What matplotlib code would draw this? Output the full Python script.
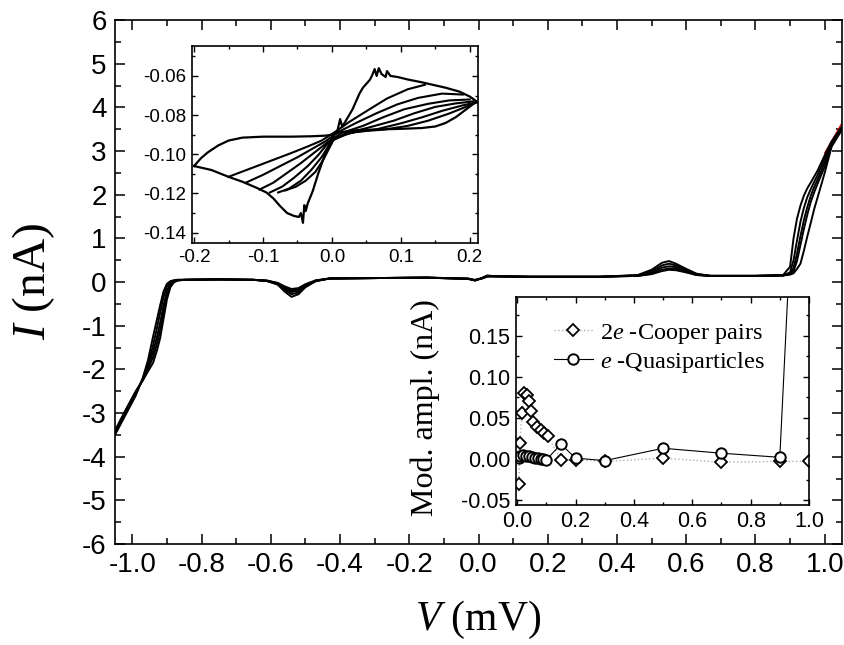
import matplotlib
matplotlib.use("Agg")
import matplotlib.pyplot as plt
from matplotlib.ticker import MultipleLocator, FormatStrFormatter
from matplotlib.lines import Line2D

plt.rcParams['font.family'] = ['Liberation Sans', 'DejaVu Sans']
plt.rcParams['axes.unicode_minus'] = False
plt.rcParams['mathtext.fontset'] = 'custom'
plt.rcParams['mathtext.rm'] = 'Liberation Serif'
plt.rcParams['mathtext.it'] = 'Liberation Serif:italic'

# ---------------- main I-V sweeps (V in mV, I in nA) ----------------
v_main = [-1.05, -1.02, -0.99, -0.97, -0.955, -0.94, -0.93, -0.92, -0.91, -0.90, -0.89, -0.88, -0.87, -0.85,
          -0.75, -0.65, -0.61, -0.58, -0.56, -0.54, -0.52, -0.50, -0.47, -0.43, -0.30, -0.15, -0.03, -0.01, 0.01, 0.025, 0.05, 0.15, 0.35,
          0.46, 0.50, 0.53, 0.55, 0.57, 0.60, 0.63, 0.67, 0.80, 0.88, 0.90, 0.91, 0.92, 0.93, 0.94, 0.95, 0.96, 0.97, 0.98, 1.00, 1.02, 1.05]

i_main_1 = [-3.50, -3.05, -2.60, -2.20, -1.80, -1.25, -0.90, -0.55, -0.22, -0.04, 0.02, 0.04, 0.05, 0.05,
            0.06, 0.05, 0.02, -0.06, -0.22, -0.34, -0.28, -0.12, 0.02, 0.08, 0.09, 0.10, 0.08, 0.03, 0.09, 0.15, 0.13, 0.12, 0.12,
            0.16, 0.28, 0.44, 0.48, 0.42, 0.30, 0.19, 0.14, 0.14, 0.16, 0.35, 1.00, 1.45, 1.75, 1.98, 2.15, 2.28, 2.42, 2.56, 2.90, 3.22, 3.56]
i_main_2 = [-3.48, -3.02, -2.57, -2.22, -1.90, -1.45, -1.10, -0.72, -0.35, -0.10, 0.00, 0.03, 0.05, 0.05,
            0.06, 0.05, 0.02, -0.05, -0.18, -0.28, -0.24, -0.10, 0.02, 0.08, 0.09, 0.10, 0.08, 0.04, 0.09, 0.14, 0.13, 0.12, 0.12,
            0.15, 0.24, 0.38, 0.42, 0.38, 0.28, 0.18, 0.14, 0.14, 0.15, 0.22, 0.50, 0.95, 1.38, 1.70, 1.95, 2.13, 2.30, 2.46, 2.84, 3.20, 3.54]
i_main_3 = [-3.46, -2.98, -2.53, -2.24, -1.95, -1.60, -1.30, -0.95, -0.55, -0.20, -0.04, 0.02, 0.04, 0.05,
            0.06, 0.05, 0.03, -0.04, -0.15, -0.23, -0.20, -0.08, 0.03, 0.08, 0.09, 0.10, 0.07, 0.04, 0.09, 0.14, 0.13, 0.12, 0.12,
            0.15, 0.21, 0.33, 0.36, 0.34, 0.25, 0.17, 0.14, 0.14, 0.15, 0.19, 0.32, 0.65, 1.05, 1.42, 1.72, 1.98, 2.18, 2.36, 2.74, 3.16, 3.53]
i_main_4 = [-3.43, -2.96, -2.51, -2.25, -2.00, -1.72, -1.45, -1.12, -0.70, -0.30, -0.08, 0.01, 0.04, 0.05,
            0.06, 0.05, 0.03, -0.03, -0.12, -0.19, -0.17, -0.07, 0.03, 0.08, 0.09, 0.10, 0.07, 0.04, 0.08, 0.13, 0.13, 0.12, 0.12,
            0.14, 0.19, 0.28, 0.31, 0.30, 0.23, 0.16, 0.14, 0.14, 0.15, 0.18, 0.25, 0.48, 0.85, 1.22, 1.55, 1.84, 2.06, 2.26, 2.64, 3.12, 3.51]
i_main_5 = [-3.40, -2.94, -2.50, -2.26, -2.05, -1.85, -1.60, -1.30, -0.85, -0.40, -0.12, -0.01, 0.03, 0.05,
            0.06, 0.05, 0.03, -0.02, -0.10, -0.16, -0.14, -0.05, 0.04, 0.08, 0.09, 0.10, 0.07, 0.05, 0.08, 0.12, 0.13, 0.12, 0.12,
            0.14, 0.18, 0.25, 0.28, 0.27, 0.22, 0.16, 0.14, 0.14, 0.15, 0.17, 0.20, 0.30, 0.42, 0.72, 1.05, 1.36, 1.68, 1.95, 2.50, 3.10, 3.49]

v_red = [1.000, 1.05]
i_red = [2.95, 3.64]

# ---------------- inset 1: zoom on the central loops ----------------
outer_v = [-0.200, -0.190, -0.180, -0.165, -0.150, -0.130, -0.100, -0.060, -0.030, -0.010, 0.000, 0.010, 0.030, 0.060,
           0.100, 0.130, 0.150, 0.165, 0.180, 0.195, 0.210,
           0.200, 0.185, 0.165, 0.150, 0.130, 0.110, 0.095, 0.085, 0.080, 0.078, 0.072, 0.068, 0.065, 0.062, 0.058,
           0.055, 0.050, 0.045, 0.040, 0.030, 0.020, 0.015, 0.012, 0.008, 0.000, -0.010, -0.020, -0.028, -0.035,
           -0.038, -0.040, -0.042, -0.045, -0.048, -0.055, -0.065, -0.075, -0.085, -0.095, -0.110, -0.130, -0.150,
           -0.175, -0.200]
outer_i = [-0.1060, -0.1020, -0.0990, -0.0955, -0.0930, -0.0915, -0.0910, -0.0910, -0.0908, -0.0905, -0.0900, -0.0890, -0.0878, -0.0874,
           -0.0870, -0.0866, -0.0858, -0.0840, -0.0810, -0.0770, -0.0730,
           -0.0705, -0.0680, -0.0660, -0.0648, -0.0632, -0.0618, -0.0605, -0.0600, -0.0575, -0.0605, -0.0590, -0.0560, -0.0600, -0.0565, -0.0600,
           -0.0620, -0.0640, -0.0660, -0.0690, -0.0770, -0.0830, -0.0860, -0.0820, -0.0880, -0.0920, -0.1000, -0.1100, -0.1190, -0.1250,
           -0.1290, -0.1260, -0.1350, -0.1300, -0.1320, -0.1315, -0.1300, -0.1265, -0.1225, -0.1195, -0.1170, -0.1140, -0.1115,
           -0.1080, -0.1060]

inner_v = [
    [-0.150, -0.120, -0.090, -0.060, -0.035, -0.015, 0.005, 0.025, 0.050, 0.080, 0.110, 0.135],
    [-0.125, -0.100, -0.075, -0.050, -0.030, -0.010, 0.010, 0.035, 0.065, 0.095, 0.125, 0.160, 0.190],
    [-0.105, -0.085, -0.065, -0.045, -0.025, -0.005, 0.015, 0.045, 0.075, 0.105, 0.140, 0.170, 0.200],
    [-0.090, -0.072, -0.055, -0.035, -0.020, -0.005, 0.020, 0.055, 0.090, 0.120, 0.150, 0.180, 0.205],
    [-0.078, -0.062, -0.045, -0.030, -0.015, 0.000, 0.025, 0.065, 0.100, 0.130, 0.160, 0.190, 0.210],
    [-0.068, -0.052, -0.038, -0.024, -0.012, 0.004, 0.035, 0.075, 0.110, 0.140, 0.170, 0.195, 0.210],
]
inner_i = [
    [-0.1115, -0.1075, -0.1035, -0.0995, -0.0960, -0.0930, -0.0885, -0.0835, -0.0780, -0.0715, -0.0668, -0.0645],
    [-0.1145, -0.1105, -0.1060, -0.1015, -0.0975, -0.0935, -0.0885, -0.0840, -0.0790, -0.0745, -0.0712, -0.0690, -0.0695],
    [-0.1180, -0.1145, -0.1095, -0.1045, -0.0990, -0.0935, -0.0890, -0.0855, -0.0810, -0.0770, -0.0742, -0.0725, -0.0720],
    [-0.1195, -0.1165, -0.1120, -0.1060, -0.1005, -0.0940, -0.0893, -0.0862, -0.0828, -0.0790, -0.0758, -0.0740, -0.0730],
    [-0.1195, -0.1175, -0.1135, -0.1080, -0.1015, -0.0930, -0.0892, -0.0872, -0.0842, -0.0812, -0.0778, -0.0750, -0.0735],
    [-0.1185, -0.1165, -0.1135, -0.1090, -0.1025, -0.0915, -0.0885, -0.0874, -0.0855, -0.0828, -0.0792, -0.0757, -0.0735],
]

# ---------------- inset 2: modulation amplitude ----------------
cp_v = [0.006, 0.009, 0.017, 0.025, 0.032, 0.040, 0.048, 0.055, 0.069, 0.081, 0.092, 0.104, 0.15, 0.20, 0.30, 0.50, 0.70, 0.90, 1.00]
cp_i = [-0.031, 0.020, 0.056, 0.080, 0.078, 0.070, 0.058, 0.045, 0.039, 0.035, 0.031, 0.028, -0.001, -0.001, -0.003, 0.001, -0.004, -0.003, -0.003]
qp_v = [0.005, 0.01, 0.02, 0.03, 0.04, 0.05, 0.06, 0.07, 0.08, 0.09, 0.10, 0.15, 0.20, 0.30, 0.50, 0.70, 0.90, 1.00]
qp_i = [0.001, 0.004, 0.005, 0.004, 0.003, 0.002, 0.001, 0.001, 0.000, 0.000, -0.001, 0.018, 0.001, -0.002, 0.013, 0.007, 0.002, 0.73]

W, H = 845, 645
fig = plt.figure(figsize=(W / 100, H / 100), dpi=100)

def px_axes(l, t, r, b):
  return fig.add_axes([l / W, 1 - b / H, (r - l) / W, (b - t) / H])

ax = px_axes(115, 20, 842, 544)
ax.plot(v_red, i_red, color='#cc0000', lw=1.0)
for cur in (i_main_5, i_main_4, i_main_3, i_main_2, i_main_1):
  ax.plot(v_main, cur, color='black', lw=1.4)
ax.set_xlim(-1.05, 1.05)
ax.set_ylim(-6, 6)
ax.xaxis.set_major_locator(MultipleLocator(0.2))
ax.xaxis.set_minor_locator(MultipleLocator(0.1))
ax.yaxis.set_major_locator(MultipleLocator(1))
ax.yaxis.set_minor_locator(MultipleLocator(0.5))
ax.xaxis.set_major_formatter(FormatStrFormatter('%.1f'))
ax.yaxis.set_major_formatter(FormatStrFormatter('%d'))
ax.tick_params(which='both', direction='in', top=True, right=True, width=1.1)
ax.tick_params(which='major', length=7, labelsize=20, pad=6)
ax.tick_params(which='minor', length=4)
for s in ax.spines.values():
  s.set_linewidth(1.2)
ax.set_xlabel(r'$V$ (mV)', fontfamily='Liberation Serif', fontsize=30, labelpad=15)
ax.set_ylabel(r'$I$ (nA)', fontfamily='Liberation Serif', fontsize=34)
ax.yaxis.set_label_coords(-0.08, 0.5)

# inset 1
ax1 = px_axes(192, 46, 478, 243)
ax1.plot(outer_v, outer_i, color='black', lw=1.6)
for vv, ii in zip(inner_v, inner_i):
  ax1.plot(vv, ii, color='black', lw=1.5)
ax1.set_xlim(-0.203, 0.212)
ax1.set_ylim(-0.1453, -0.0447)
ax1.xaxis.set_major_locator(MultipleLocator(0.1))
ax1.xaxis.set_minor_locator(MultipleLocator(0.05))
ax1.yaxis.set_major_locator(MultipleLocator(0.02))
ax1.yaxis.set_minor_locator(MultipleLocator(0.01))
ax1.xaxis.set_major_formatter(FormatStrFormatter('%.1f'))
ax1.yaxis.set_major_formatter(FormatStrFormatter('%.2f'))
ax1.tick_params(which='both', direction='in', top=True, right=True, width=1.0)
ax1.tick_params(which='major', length=4, labelsize=13.5, pad=4)
ax1.tick_params(which='minor', length=2.5)
for s in ax1.spines.values():
  s.set_linewidth(1.2)

# inset 2
ax2 = px_axes(516, 297, 809, 505)
ax2.plot(cp_v, cp_i, color='#b0b0b0', ls=':', lw=1.0, marker='D', ms=6, mfc='white', mec='black', mew=1.3)
ax2.plot(qp_v, qp_i, color='black', ls='-', lw=0.8, marker='o', ms=7.5, mfc='white', mec='black', mew=1.4)
ax2.set_xlim(-0.004, 1.0)
ax2.set_ylim(-0.056, 0.197)
ax2.xaxis.set_major_locator(MultipleLocator(0.2))
ax2.xaxis.set_minor_locator(MultipleLocator(0.1))
ax2.yaxis.set_major_locator(MultipleLocator(0.05))
ax2.yaxis.set_minor_locator(MultipleLocator(0.025))
ax2.xaxis.set_major_formatter(FormatStrFormatter('%.1f'))
ax2.yaxis.set_major_formatter(FormatStrFormatter('%.2f'))
ax2.tick_params(which='both', direction='in', top=True, right=True, width=1.0)
ax2.tick_params(which='major', length=4, labelsize=15.5, pad=4)
ax2.tick_params(which='minor', length=2.5)
for s in ax2.spines.values():
  s.set_linewidth(1.2)
ax2.set_ylabel('Mod. ampl. (nA)', fontfamily='Liberation Serif', fontsize=23)
ax2.yaxis.set_label_coords(-0.26, 0.47)

h_cp = Line2D([], [], color='#b0b0b0', ls=':', lw=1.0, marker='D', ms=6, mfc='white', mec='black', mew=1.3)
h_qp = Line2D([], [], color='black', ls='-', lw=0.8, marker='o', ms=7.5, mfc='white', mec='black', mew=1.4)
ax2.legend([h_cp, h_qp], [r'$\mathit{2e}$ -Cooper pairs', r'$e$ -Quasiparticles'],
           loc='upper left', bbox_to_anchor=(0.08, 0.95), frameon=False,
           prop={'family': 'Liberation Serif', 'size': 17.5}, handlelength=1.6,
           handletextpad=0.3, borderaxespad=0.2, labelspacing=0.15)

fig.savefig('out.png', dpi=100)
